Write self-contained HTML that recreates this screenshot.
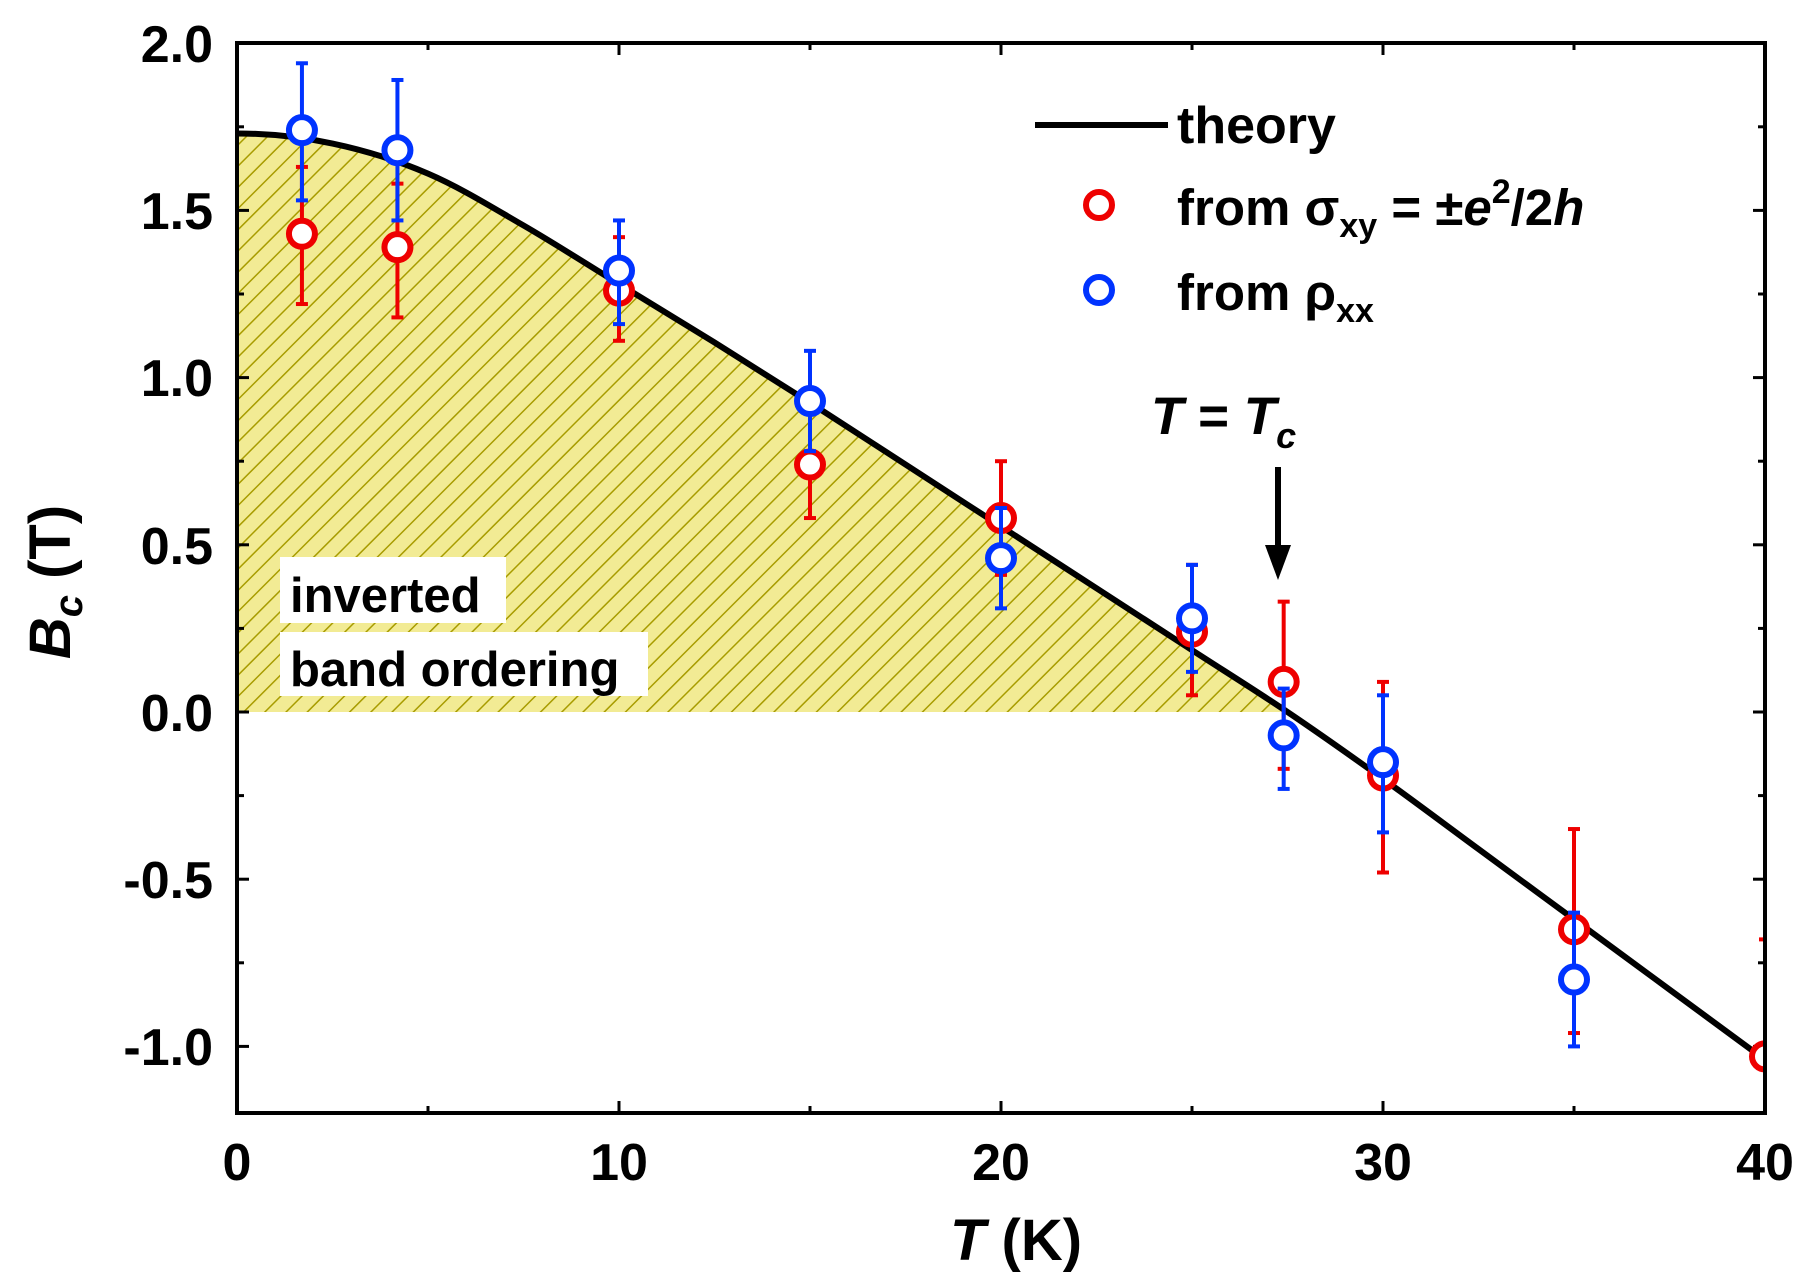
<!DOCTYPE html>
<html><head><meta charset="utf-8"><style>
html,body{margin:0;padding:0;background:#fff;}
svg{display:block;font-family:"Liberation Sans",sans-serif;font-weight:bold;}
</style></head><body>
<svg id="s" width="1817" height="1286" viewBox="0 0 1817 1286" xmlns="http://www.w3.org/2000/svg">
<defs>
<pattern id="h" patternUnits="userSpaceOnUse" width="15" height="15" patternTransform="rotate(45)">
<rect width="15" height="15" fill="#f2eb94"/>
<line x1="0" y1="0" x2="0" y2="15" stroke="#a89c00" stroke-width="3"/>
</pattern>
<clipPath id="c"><rect x="237" y="43" width="1528" height="1070"/></clipPath>
</defs>
<path id="fill" d="" fill="url(#h)"/>
<rect x="280" y="557" width="226" height="66" fill="#fff"/>
<rect x="280" y="632" width="368" height="64" fill="#fff"/>
<text x="290" y="612" font-size="49">inverted</text>
<text x="290" y="686" font-size="49">band ordering</text>
<g id="ticks" stroke="#000" stroke-width="3"></g>
<path id="curve" d="" fill="none" stroke="#000" stroke-width="6"/>
<g id="pts" clip-path="url(#c)"></g>
<rect x="237" y="43" width="1528" height="1070" fill="none" stroke="#000" stroke-width="4"/>
<g font-size="52" text-anchor="end">
<text x="213" y="62">2.0</text><text x="213" y="229">1.5</text><text x="213" y="396">1.0</text>
<text x="213" y="564">0.5</text><text x="213" y="731">0.0</text><text x="213" y="898">-0.5</text><text x="213" y="1065">-1.0</text>
</g>
<g font-size="52" text-anchor="middle">
<text x="237" y="1180">0</text><text x="619" y="1180">10</text><text x="1001" y="1180">20</text>
<text x="1383" y="1180">30</text><text x="1765" y="1180">40</text>
</g>
<text x="1016" y="1260" font-size="58" text-anchor="middle"><tspan font-style="italic">T</tspan> (K)</text>
<text transform="translate(70,582) rotate(-90)" font-size="58" text-anchor="middle"><tspan font-style="italic">B</tspan><tspan font-style="italic" font-size="40" dy="12">c</tspan><tspan dy="-12"> (T)</tspan></text>
<line x1="1035" y1="125" x2="1168" y2="125" stroke="#000" stroke-width="6"/>
<text x="1177" y="143" font-size="52">theory</text>
<circle cx="1099" cy="205" r="13" fill="#fff" stroke="#ee0000" stroke-width="6"/>
<circle cx="1099" cy="290" r="13" fill="#fff" stroke="#0033ff" stroke-width="6"/>
<text x="1177" y="225" font-size="51">from σ<tspan font-size="34" dy="12">xy</tspan><tspan dy="-12"> = ±</tspan><tspan font-style="italic">e</tspan><tspan font-size="34" dy="-22">2</tspan><tspan dy="22">/2</tspan><tspan font-style="italic">h</tspan></text>
<text x="1177" y="310" font-size="51">from ρ<tspan font-size="34" dy="12">xx</tspan></text>
<text x="1151" y="434" font-size="53"><tspan font-style="italic">T</tspan> = <tspan font-style="italic">T</tspan><tspan font-style="italic" font-size="36" dy="14">c</tspan></text>
<line x1="1278" y1="467" x2="1278" y2="550" stroke="#000" stroke-width="6"/>
<polygon points="1265,545 1291,545 1278,580" fill="#000"/>
</svg>
<script>
var NS="http://www.w3.org/2000/svg";
function X(t){return 237+38.2*t}function Y(b){return 712-334.4*b}
function el(n,a,p){var e=document.createElementNS(NS,n);for(var k in a)e.setAttribute(k,a[k]);p.appendChild(e);return e}
var T=[0,2.5,5,7.5,10,12.5,15,17.5,20,22.5,25,27.5,30,32.5,35,37.5,40];
var B=[1.73,1.70,1.61,1.455,1.28,1.105,0.925,0.74,0.555,0.37,0.185,0.0,-0.2,-0.41,-0.62,-0.83,-1.04];
var P=T.map(function(t,i){return [X(t),Y(B[i])]});
function seg(a,b){var s="";for(var i=a;i<b;i++){var p0=P[Math.max(i-1,0)],p1=P[i],p2=P[i+1],p3=P[Math.min(i+2,P.length-1)];
if(i==0){p0=[2*p1[0]-p2[0],p2[1]];}
s+=" C"+(p1[0]+(p2[0]-p0[0])/6)+","+(p1[1]+(p2[1]-p0[1])/6)+" "+(p2[0]-(p3[0]-p1[0])/6)+","+(p2[1]-(p3[1]-p1[1])/6)+" "+p2[0]+","+p2[1];}return s;}
document.getElementById('curve').setAttribute('d',"M"+P[0][0]+","+P[0][1]+seg(0,P.length-1));
document.getElementById('fill').setAttribute('d',"M"+P[0][0]+","+P[0][1]+seg(0,11)+" L237,712 Z");
var tk=document.getElementById('ticks');
for(var t=0;t<=40;t+=5){var L=(t%10==0)?12:7;var x=X(t);
el('line',{x1:x,y1:1113,x2:x,y2:1113-L},tk);el('line',{x1:x,y1:43,x2:x,y2:43+L},tk);}
for(var i=-4;i<=8;i++){var b=i*0.25;var y=Y(b);if(y>1113||y<43)continue;var L=(i%2==0)?12:7;
el('line',{x1:237,y1:y,x2:237+L,y2:y},tk);el('line',{x1:1765,y1:y,x2:1765-L,y2:y},tk);}
var pg=document.getElementById('pts');
var red=[[1.7,1.43,1.63,1.22],[4.2,1.39,1.58,1.18],[10,1.26,1.42,1.11],[15,0.74,0.9,0.58],[20,0.58,0.75,0.41],[25,0.24,0.44,0.05],[27.4,0.09,0.33,-0.17],[30,-0.19,0.09,-0.48],[35,-0.65,-0.35,-0.96],[40,-1.03,-0.68,-1.3]];
var blue=[[1.7,1.74,1.94,1.53],[4.2,1.68,1.89,1.47],[10,1.32,1.47,1.16],[15,0.93,1.08,0.78],[20,0.46,0.61,0.31],[25,0.28,0.44,0.12],[27.4,-0.07,0.07,-0.23],[30,-0.15,0.05,-0.36],[35,-0.80,-0.6,-1.0]];
function draw(d,c){d.forEach(function(p){var x=X(p[0]);
el('line',{x1:x,y1:Y(p[2]),x2:x,y2:Y(p[3]),stroke:c,'stroke-width':4},pg);
el('line',{x1:x-6,y1:Y(p[2]),x2:x+6,y2:Y(p[2]),stroke:c,'stroke-width':4},pg);
el('line',{x1:x-6,y1:Y(p[3]),x2:x+6,y2:Y(p[3]),stroke:c,'stroke-width':4},pg);
el('circle',{cx:x,cy:Y(p[1]),r:13,fill:'#fff',stroke:c,'stroke-width':6},pg);});}
draw(red,'#ee0000');draw(blue,'#0033ff');
</script>
</body></html>
